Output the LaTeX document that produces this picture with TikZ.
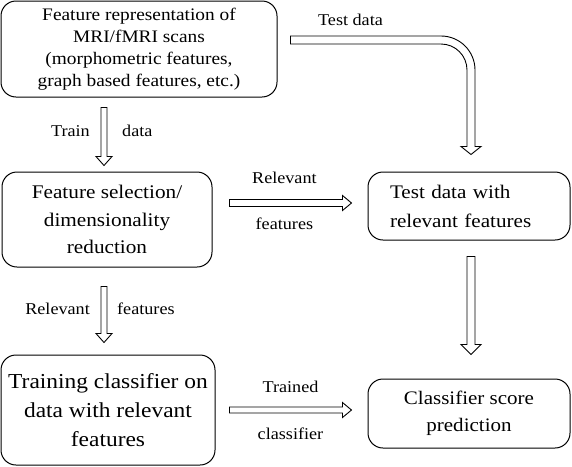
\documentclass[tikz,border=0pt]{standalone}
\usepackage{fontspec}
\setmainfont{Liberation Serif}[FakeStretch=1.1]
\usetikzlibrary{calc}
\tikzset{
  box/.style={draw, line width=1pt, rounded corners=15pt, inner sep=0pt, align=center},
  lbl/.style={inner sep=0pt, font=\fontsize{16.5}{19}\selectfont},
  arrowline/.style={draw, line width=0.9pt, line join=miter, fill=white}
}
% down arrow: #1 start, #2 tip, #3 half shaft, #4 half head, #5 head length
\newcommand{\dnArrow}[5]{%
  \draw[arrowline] ($(#1)+(-#3,0)$) -- ($(#2)+(-#3,-#5)$) -- ($(#2)+(-#4,-#5)$) -- (#2)
    -- ($(#2)+(#4,-#5)$) -- ($(#2)+(#3,-#5)$) -- ($(#1)+(#3,0)$) -- cycle;}
% right arrow
\newcommand{\rtArrow}[5]{%
  \draw[arrowline] ($(#1)+(0,-#3)$) -- ($(#2)+(-#5,-#3)$) -- ($(#2)+(-#5,-#4)$) -- (#2)
    -- ($(#2)+(-#5,#4)$) -- ($(#2)+(-#5,#3)$) -- ($(#1)+(0,#3)$) -- cycle;}
\begin{document}
\begin{tikzpicture}[x=1pt, y=-1pt]
\useasboundingbox (0,0) rectangle (572,466);
% boxes
\node[box, minimum width=276pt, minimum height=96pt, font=\fontsize{17.6}{22}\selectfont] (b1) at (139,49)
  {Feature representation of\\MRI/fMRI scans\\(morphometric features,\\graph based features, etc.)};
\node[box, minimum width=210pt, minimum height=95pt, font=\fontsize{19.3}{27.5}\selectfont] (b2) at (107,219.5)
  {Feature selection/\\dimensionality\\reduction};
\node[box, minimum width=202pt, minimum height=68pt, text width=158pt, align=left, font=\fontsize{19.2}{29}\selectfont] (b3) at (469,206)
  {Test data with\\relevant features};
\node[box, minimum width=214pt, minimum height=110pt, font=\fontsize{21.3}{29}\selectfont] (b4) at (108,410)
  {Training classifier on\\data with relevant\\features};
\node[box, minimum width=202pt, minimum height=69pt, font=\fontsize{19.1}{27}\selectfont] (b5) at (469,413.5)
  {Classifier score\\prediction};
% connector end points
\coordinate (a1s) at ($(b1.south -| b2.north)+(-3,10)$);
\coordinate (a1t) at ($(b2.north)+(-3,-6)$);
\coordinate (a2s) at ($(b2.south)+(-3,19)$);
\coordinate (a2t) at ($(b4.north)+(-4,-12)$);
\coordinate (a3s) at ($(b2.east |- b3.west)+(17,-3)$);
\coordinate (a3t) at ($(b3.west)+(-16,-3)$);
\coordinate (a4s) at ($(b4.east |- b5.west)+(14,-3.5)$);
\coordinate (a4t) at ($(b5.west)+(-16,-3.5)$);
\coordinate (a5s) at ($(b3.south)+(2,16)$);
\coordinate (a5t) at ($(b5.north)+(2,-24)$);
\coordinate (a6s) at ($(b1.east)+(13,-9)$);
\coordinate (a6t) at ($(b3.north)+(2,-17)$);
\coordinate (a6c) at ($(a6s -| a6t)+(-30,30)$);
% arrows
\dnArrow{a1s}{a1t}{3}{8}{9}
\dnArrow{a2s}{a2t}{3}{8}{9}
\rtArrow{a3s}{a3t}{3.5}{7.5}{9}
\rtArrow{a4s}{a4t}{3}{7.5}{9}
\dnArrow{a5s}{a5t}{4}{10}{10}
\draw[arrowline] ($(a6s)+(0,-4)$) -- ($(a6c)+(0,-34)$) arc[start angle=-90, end angle=0, radius=34]
  -- ($(a6t)+(4,-8)$) -- ($(a6t)+(10,-8)$) -- (a6t) -- ($(a6t)+(-10,-8)$) -- ($(a6t)+(-4,-8)$)
  -- ($(a6c)+(26,0)$) arc[start angle=0, end angle=-90, radius=26] -- ($(a6s)+(0,4)$) -- cycle;
% labels
\node[lbl, anchor=east] (l1a) at ($(a1s)!0.4!(a1t)+(-14,0)$) {Train};
\node[lbl, anchor=west] (l1b) at ($(a1s)!0.4!(a1t)+(18,0)$) {data};
\node[lbl, anchor=east] (l2a) at ($(a2s)!0.4!(a2t)+(-14,0)$) {Relevant};
\node[lbl, anchor=west] (l2b) at ($(a2s)!0.4!(a2t)+(13,0)$) {features};
\node[lbl] (l3a) at ($(a3s)!0.45!(a3t)+(0,-25)$) {Relevant};
\node[lbl] (l3b) at ($(a3s)!0.45!(a3t)+(0,21)$) {features};
\node[lbl] (l4a) at ($(a4s)!0.5!(a4t)+(0,-23)$) {Trained};
\node[lbl] (l4b) at ($(a4s)!0.5!(a4t)+(0,24)$) {classifier};
\node[lbl] (l6) at ($(a6s)+(60,-20)$) {Test data};
\end{tikzpicture}
\end{document}
